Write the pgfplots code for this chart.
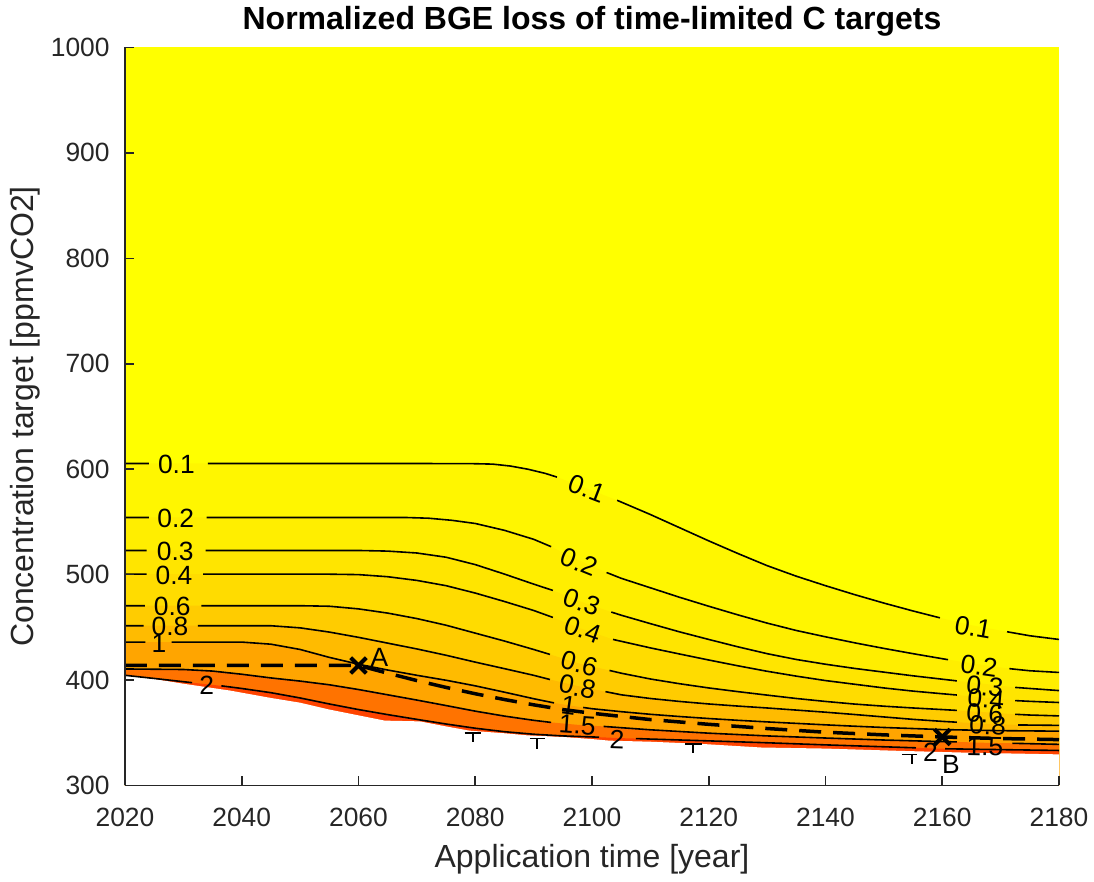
\documentclass[border=0pt]{standalone}
\usepackage{pgfplots}
\pgfplotsset{compat=1.18}
\usepackage{pgfplotstable}
\usepackage{fontspec}
\setmainfont{Liberation Sans}

\definecolor{axgray}{RGB}{38,38,38}
\definecolor{b0}{RGB}{255,255,0}
\definecolor{b1}{RGB}{255,246,0}
\definecolor{b2}{RGB}{255,238,0}
\definecolor{b3}{RGB}{255,229,0}
\definecolor{b4}{RGB}{255,220,0}
\definecolor{b6}{RGB}{255,204,0}
\definecolor{b8}{RGB}{255,187,0}
\definecolor{b10}{RGB}{255,165,0}
\definecolor{b15}{RGB}{255,115,0}
\definecolor{b20}{RGB}{255,68,0}

\tikzset{clab/.style={font=\fontsize{13.2}{15}\selectfont, inner sep=0pt}}
\pgfplotsset{cline/.style={black, line width=0.8pt, unbounded coords=jump}}

% contour 0.1
\pgfplotstableread{
x y yl
2020 605.4 605.4
2024.1 605.4 605.4
2029 605.4 nan
2034.2 605.4 605.4
2050 605.4 605.4
2070 605.4 605.4
2080 605.2 605.2
2083 604.8 604.8
2086 603 603
2089 600 600
2092 596 596
2094 592.5 592.5
2099 582 nan
2104.3 570.5 570.5
2110 557 557
2115 544.5 544.5
2120 532 532
2125 520 520
2130 508.5 508.5
2135 498.5 498.5
2140 489.5 489.5
2145 481 481
2150 473 473
2155 465.5 465.5
2159.6 459 459
2165 452 nan
2171.1 445.8 445.8
2175 442 442
2180 438.5 438.5
}\tCa
% contour 0.2
\pgfplotstableread{
x y yl
2020 554.2 554.2
2024.1 554.2 554.2
2029 554.2 nan
2034 554.2 554.2
2050 554.2 554.2
2068 554.2 554.2
2072 553.5 553.5
2076 551.5 551.5
2080 548.5 548.5
2085 542 542
2090 533.5 533.5
2093 526.5 526.5
2097.6 514 nan
2102.5 502 502
2105 496.5 496.5
2110 487.5 487.5
2115 478.5 478.5
2120 470 470
2125 461.8 461.8
2130 454 454
2135 447 447
2140 441 441
2145 435.3 435.3
2150 430 430
2155 425 425
2161 419.3 419.3
2166 415 nan
2171.5 410.8 410.8
2175 408.8 408.8
2180 407.2 407.2
}\tCb
% contour 0.3
\pgfplotstableread{
x y yl
2020 522.9 522.9
2023.7 522.9 522.9
2028.6 522.9 nan
2033.8 522.9 522.9
2050 522.9 522.9
2060 522.9 522.9
2065 522.3 522.3
2070 520.5 520.5
2075 516.5 516.5
2080 509.5 509.5
2085 500.5 500.5
2090 491 491
2093.3 485 485
2098 474.5 nan
2103.3 464.5 464.5
2105 461.5 461.5
2110 453.5 453.5
2115 445.7 445.7
2120 438.5 438.5
2125 431.5 431.5
2130 425 425
2135 419.5 419.5
2140 415 415
2145 411 411
2150 407.5 407.5
2155 404 404
2160 400.8 400.8
2162.5 399.2 399.2
2167.3 396.3 nan
2172.5 393 393
2175 392 392
2180 390 390
}\tCc
% contour 0.4
\pgfplotstableread{
x y yl
2020 500.4 500.4
2023.7 500.4 500.4
2028.4 500.4 nan
2033.4 500.4 500.4
2055 500.4 500.4
2060 500 500
2065 498 498
2070 494.5 494.5
2075 489.5 489.5
2080 482.5 482.5
2085 474.5 474.5
2090 466 466
2093.3 459.4 459.4
2098 449 nan
2103.6 438.5 438.5
2110 430.5 430.5
2115 424.7 424.7
2120 419 419
2125 413.5 413.5
2130 408.3 408.3
2135 403.7 403.7
2140 399.5 399.5
2145 396 396
2150 392.5 392.5
2155 389.5 389.5
2160 387 387
2162.5 385.8 385.8
2167.8 383 nan
2172.5 380.5 380.5
2175 379.8 379.8
2180 378.7 378.7
}\tCd
% contour 0.6
\pgfplotstableread{
x y yl
2020 470.5 470.5
2023.4 470.5 470.5
2028.1 470.5 nan
2033.1 470.5 470.5
2050 470.5 470.5
2055 470 470
2060 467.5 467.5
2065 463.5 463.5
2070 458.3 458.3
2075 452 452
2080 444.5 444.5
2085 437 437
2090 429 429
2092.8 424.3 424.3
2097.6 416 nan
2103 409.1 409.1
2105 406.5 406.5
2110 401 401
2115 396.5 396.5
2120 392.5 392.5
2125 389 389
2130 385.7 385.7
2135 382.5 382.5
2140 379.7 379.7
2145 377.2 377.2
2150 375.2 375.2
2155 373.5 373.5
2160 372 372
2162.5 371.2 371.2
2167.3 369.5 nan
2172.5 367.5 367.5
2175 366.8 366.8
2180 366 366
}\tCe
% contour 0.8
\pgfplotstableread{
x y yl
2020 451.5 451.5
2023.2 451.5 451.5
2027.7 451.5 nan
2032.5 451.5 451.5
2045 451.5 451.5
2050 449.5 449.5
2055 445.5 445.5
2060 440.5 440.5
2065 435 435
2070 429.5 429.5
2075 423.5 423.5
2080 417 417
2085 410.8 410.8
2090 404.5 404.5
2092.8 400.5 400.5
2097.4 394.5 nan
2102.3 389 389
2105 386 386
2110 382.5 382.5
2115 379.7 379.7
2120 377.3 377.3
2125 375.3 375.3
2130 373.5 373.5
2135 371.5 371.5
2140 369.5 369.5
2145 367.3 367.3
2150 365 365
2155 362.7 362.7
2160 360.8 360.8
2162.5 360 360
2167.8 358.5 nan
2173 357.4 357.4
2180 357 357
}\tCf
% contour 1
\pgfplotstableread{
x y yl
2020 436 436
2023.5 436 436
2025.7 436 nan
2028 436 436
2040 436 436
2045 434 434
2050 429 429
2055 421.5 421.5
2060 415 415
2065 409.5 409.5
2070 404.5 404.5
2075 399.8 399.8
2080 394.5 394.5
2085 388.5 388.5
2090 382.3 382.3
2093.5 378.3 378.3
2096 376 nan
2098.5 374 374
2100 372.8 372.8
2105 370 370
2110 367.5 367.5
2115 365.4 365.4
2120 363.5 363.5
2125 361.8 361.8
2130 360.3 360.3
2135 358.9 358.9
2140 357.5 357.5
2145 356.2 356.2
2150 355 355
2155 354 354
2160 353 353
2170 352 352
2180 351.5 351.5
}\tCg
% contour 1.5
\pgfplotstableread{
x y yl
2020 410.5 410.5
2030 410 410
2035 408.5 408.5
2040 405.5 405.5
2045 402 402
2050 399 399
2055 395.5 395.5
2060 391 391
2065 386 386
2070 381 381
2075 375.8 375.8
2080 370.5 370.5
2085 365.8 365.8
2090 361.8 361.8
2093 359.8 359.8
2097.6 357.5 nan
2102 356 356
2110 352.8 352.8
2120 349.6 349.6
2130 347 347
2140 345 345
2150 343.1 343.1
2160 341.6 341.6
2162.5 341.3 341.3
2167.3 340.5 nan
2172 340 340
2180 339 339
}\tCh
% contour 2
\pgfplotstableread{
x y yl
2020 404.5 404.5
2025 401.5 401.5
2031.5 397.5 397.5
2034 396 nan
2036.5 394.5 394.5
2040 392 392
2045 388 388
2050 383 383
2055 377.3 377.3
2060 372 372
2065 367.2 367.2
2070 362.7 362.7
2075 358.3 358.3
2080 354.3 354.3
2085 351 351
2090 348.6 348.6
2095 347 347
2101.2 345.8 345.8
2104.3 345 nan
2107.5 344.5 344.5
2110 344 344
2120 342.3 342.3
2130 340.5 340.5
2140 338.5 338.5
2150 336.7 336.7
2155.5 335.7 335.7
2158 335.2 nan
2160.5 334.8 334.8
2170 334 334
2180 333.2 333.2
}\tCi
% lower edge of the data (white below)
\pgfplotstableread{
x y
2020 404.5
2025 401
2030 396.5
2038 390
2045 383
2050 378.5
2055 372
2060 366.5
2064.5 361.5
2070.5 360.8
2075 356
2079 352
2085 349.5
2089 347.5
2095 346
2100 344
2103 342.5
2110 341.5
2118.5 339.5
2129 336
2140 335
2151.6 333
2165 331
2180 329.5
}\tBd
% dashed path
\pgfplotstableread{
x y
2020 413.8
2060 413.8
2065 406.5
2070 399.5
2075 393
2080 387
2085 381.5
2090 376.5
2095 372
2100 368.5
2110 362.5
2120 358
2130 354
2140 350.5
2150 348
2160 346
2170 344.5
2180 343.5
}\tDs

\begin{document}
\begin{tikzpicture}
\begin{axis}[
  at={(0,0)}, anchor=south west,
  width=467pt, height=369pt, scale only axis,
  xmin=2020, xmax=2180, ymin=300, ymax=1000,
  xtick={2020,2040,...,2180}, ytick={300,400,...,1000},
  axis lines=left, axis line style={-, axgray, line width=0.8pt},
  tick style={axgray, line width=0.8pt},
  tick align=inside, major tick length=4.5pt,
  axis on top,
  axis background/.style={fill=b0},
  /pgf/number format/1000 sep={},
  /pgf/number format/assume math mode=true,
  ticklabel style={font=\fontsize{13.2}{15}\selectfont, text=axgray},
  xticklabel style={anchor=north, inner sep=0pt, yshift=-11pt},
  yticklabel style={anchor=east, inner sep=0pt, xshift=-7.5pt},
  xlabel={Application time [year]},
  ylabel={Concentration target [ppmvCO2]},
  label style={font=\fontsize{16}{19}\selectfont, text=axgray},
  x label style={at={(axis description cs:0.5,-0.1003)}, anchor=center},
  y label style={at={(axis description cs:-0.1071,0.5)}, anchor=center},
  every axis title shift=0pt,
  title={Normalized BGE loss of time-limited C targets},
  title style={font=\fontsize{16}{19}\selectfont\bfseries, at={(axis description cs:0.5,1.035)}, anchor=center},
]
% filled bands
\addplot[fill=b1, draw=none] table[x=x,y=y] {\tCa} \closedcycle;
\addplot[fill=b2, draw=none] table[x=x,y=y] {\tCb} \closedcycle;
\addplot[fill=b3, draw=none] table[x=x,y=y] {\tCc} \closedcycle;
\addplot[fill=b4, draw=none] table[x=x,y=y] {\tCd} \closedcycle;
\addplot[fill=b6, draw=none] table[x=x,y=y] {\tCe} \closedcycle;
\addplot[fill=b8, draw=none] table[x=x,y=y] {\tCf} \closedcycle;
\addplot[fill=b10, draw=none] table[x=x,y=y] {\tCg} \closedcycle;
\addplot[fill=b15, draw=none] table[x=x,y=y] {\tCh} \closedcycle;
\addplot[fill=b20, draw=none] table[x=x,y=y] {\tCi} \closedcycle;
\addplot[fill=white, draw=none] table[x=x,y=y] {\tBd} \closedcycle;
% contour lines
\addplot[cline] table[x=x,y=yl] {\tCa};
\addplot[cline] table[x=x,y=yl] {\tCb};
\addplot[cline] table[x=x,y=yl] {\tCc};
\addplot[cline] table[x=x,y=yl] {\tCd};
\addplot[cline] table[x=x,y=yl] {\tCe};
\addplot[cline] table[x=x,y=yl] {\tCf};
\addplot[cline] table[x=x,y=yl] {\tCg};
\addplot[cline] table[x=x,y=yl] {\tCh};
\addplot[cline] table[x=x,y=yl] {\tCi};
% small fragments near the lower edge
\addplot[cline] coordinates {
(2078.2,350) (2081,350) (2079.6,nan) (2079.6,350) (2079.6,341) (2079.6,nan)
(2089.3,344.6) (2092,344.6) (2090.6,nan) (2090.6,344.6) (2090.6,335) (2090.6,nan)
(2116,339.5) (2118.8,339.5) (2117.3,nan) (2117.3,339.5) (2117.3,331) (2117.3,nan)
(2153.1,329.5) (2155.7,329.5) (2154.8,nan) (2154.8,329.5) (2154.8,320.5)
};
% dashed path
\addplot[black, line width=1.75pt, dash pattern=on 11pt off 6pt] table[x=x,y=y] {\tDs};
% points A and B
\addplot[only marks, mark=x, mark size=5.5pt, mark options={line width=2pt, black}] coordinates {(2060,413.8) (2160,346)};
\node[clab] at (axis cs:2063.6,421.5) {A};
\node[clab] at (axis cs:2161.5,320) {B};
% left labels
\node[clab] at (axis cs:2028.8,604.5) {0.1};
\node[clab] at (axis cs:2028.7,553.2) {0.2};
\node[clab] at (axis cs:2028.6,522) {0.3};
\node[clab] at (axis cs:2028.4,499.5) {0.4};
\node[clab] at (axis cs:2028.1,469.5) {0.6};
\node[clab] at (axis cs:2027.7,450.5) {0.8};
\node[clab] at (axis cs:2025.8,435) {1};
\node[clab] at (axis cs:2034,395) {2};
% middle labels
\node[clab, rotate=-21] at (axis cs:2099.2,581.5) {0.1};
\node[clab, rotate=-22] at (axis cs:2097.8,512) {0.2};
\node[clab, rotate=-20] at (axis cs:2098.3,474) {0.3};
\node[clab, rotate=-19] at (axis cs:2098.4,448) {0.4};
\node[clab, rotate=-15] at (axis cs:2097.8,415.5) {0.6};
\node[clab, rotate=-12] at (axis cs:2097.5,393.5) {0.8};
\node[clab, rotate=-8] at (axis cs:2096,376) {1};
\node[clab, rotate=-4] at (axis cs:2097.5,357.5) {1.5};
\node[clab, rotate=-2] at (axis cs:2104.3,343.5) {2};
% right labels
\node[clab, rotate=-10] at (axis cs:2165.3,450) {0.1};
\node[clab, rotate=-8] at (axis cs:2166.3,413) {0.2};
\node[clab, rotate=-6] at (axis cs:2167.3,394) {0.3};
\node[clab, rotate=-5] at (axis cs:2167.5,382) {0.4};
\node[clab, rotate=-4] at (axis cs:2167.3,368.5) {0.6};
\node[clab, rotate=-3] at (axis cs:2167.8,357) {0.8};
\node[clab, rotate=-1] at (axis cs:2167.3,337) {1.5};
\node[clab] at (axis cs:2158,331.5) {2};
\end{axis}
\path (-62.5pt,-48pt) rectangle (484.5pt,391.5pt);
\end{tikzpicture}
\end{document}
